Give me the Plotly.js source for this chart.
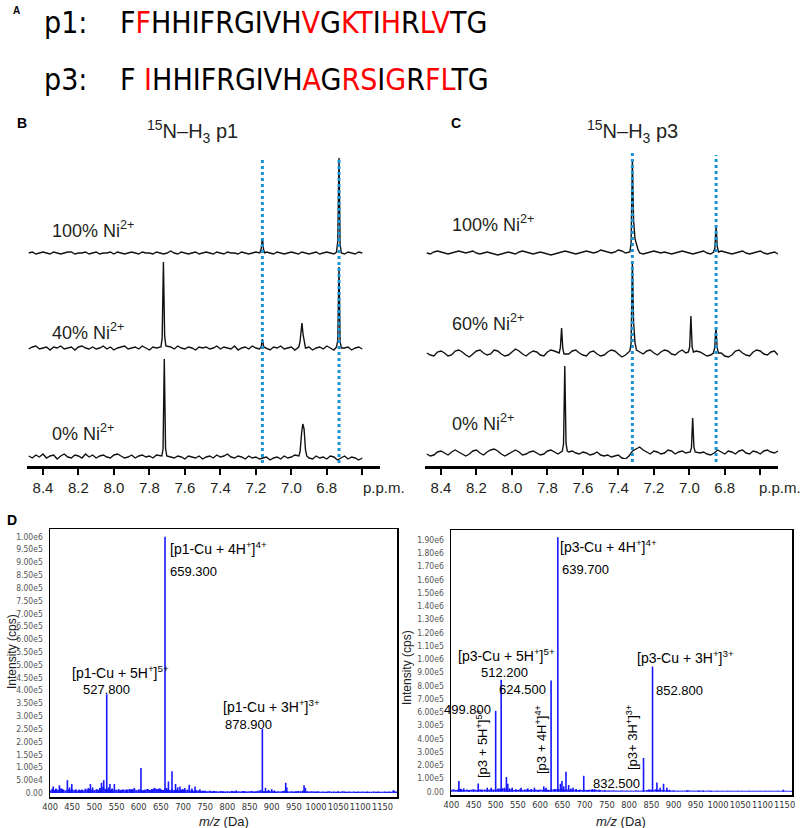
<!DOCTYPE html>
<html>
<head>
<meta charset="utf-8">
<script src="https://cdn.plot.ly/plotly-3.0.1.min.js"></script>
<style>body{margin:0;background:#fff}</style>
</head>
<body>
<div id="fig" style="width:800px;height:828px"></div>
<script>
// Panel A: peptide sequences, red = substituted residue (1-based positions)
var seqP1 = "FFHHIFRGIVHVGKTIHRLVTG";
var seqP3 = "F IHHIFRGIVHAGRSIGRFLTG";
var redP1 = [2, 12, 14, 15, 17, 19, 20];
var redP3 = [3, 13, 15, 16, 18, 20, 21];

// Panels B/C: 1H NMR, ppm axis
var ppmTicks = [8.4, 8.2, 8.0, 7.8, 7.6, 7.4, 7.2, 7.0, 6.8, 6.6];
var ppmTickText = ["8.4", "8.2", "8.0", "7.8", "7.6", "7.4", "7.2", "7.0", "6.8", ""];
var rowLabelsB = ["100% Ni<sup>2+</sup>", "40% Ni<sup>2+</sup>", "0% Ni<sup>2+</sup>"];
var rowLabelsC = ["100% Ni<sup>2+</sup>", "60% Ni<sup>2+</sup>", "0% Ni<sup>2+</sup>"];
var markB = [7.163, 6.731];
var markC = [7.321, 6.849];

// baseline noise, one value per 0.02 ppm starting at 8.48
var b100Noise = [0,1,-1,0,1,0,-1,1,0,-1,0,1,1,-1,0,0,1,-1,0,1,
  -1,0,0,1,-1,1,0,-1,0,1,0,-1,1,0,0,-1,1,0,-1,0,
  2,0,-1,1,0,-1,0,1,-1,0,1,0,-1,1,0,-1,1,0,0,-1,
  1,0,-1,0,1,-1,0,1,0,-1,1,0,-1,0,1,0,-1,1,0,-1,
  0,1,-1,0,1,0,-1,1,0,-1,1,0,-1,1,0];
var b40Noise = [-1,1,2,-1,0,1,-2,1,0,2,-1,0,1,-2,1,2,0,-1,1,-1,
  0,2,-1,1,-2,0,1,2,-1,0,1,-1,2,0,-2,1,0,1,-1,3,
  1,-1,2,0,-1,1,0,-2,1,0,1,-1,0,2,-1,1,0,-1,2,-2,
  0,1,-1,2,0,-1,1,0,-2,1,0,2,-1,0,1,-2,2,0,-1,1,
  -2,0,1,-1,2,0,-2,1,-1,0,1,-2,0,1,-1];
var b0Noise = [1,-1,2,0,3,-1,1,2,-2,1,3,0,-1,2,1,-1,3,0,2,-1,
  1,2,0,-1,2,3,1,-1,0,2,-1,1,2,0,1,-1,2,1,3,2,
  0,-1,1,0,-2,1,0,-1,1,-2,0,1,-1,2,0,1,3,0,-1,1,
  0,-2,1,-1,0,-2,-1,0,-3,-1,0,-2,1,-1,0,2,-1,1,0,-1,
  -2,1,-1,0,-2,1,0,-3,-1,1,-2,0,-1,-3,-1];
var c100Noise = [0,-1,1,2,1,0,-1,0,1,2,1,0,1,2,0,-1,0,1,0,-1,
  -2,-1,0,1,0,-1,1,2,1,0,-1,0,1,0,-1,-2,-1,0,1,2,
  1,0,-1,0,1,2,1,0,1,3,2,1,0,1,3,2,0,1,2,1,
  0,-1,0,1,2,1,0,1,0,-1,0,1,2,1,0,-1,0,1,2,0,
  -1,0,1,2,1,0,-1,0,1,2,0,-1,0,1,2,0,-1,0,1,-1];
var c60Noise = [0,-2,-3,1,2,0,-3,-2,2,3,1,-2,-4,-1,2,3,0,-2,-1,3,
  2,-1,-3,-2,1,4,2,-1,-3,0,2,1,-2,-3,1,3,2,-1,-2,-4,
  -1,2,3,0,-2,-3,1,2,-1,-3,-2,1,3,2,-1,-4,-2,1,2,3,
  1,-1,2,3,0,-2,1,3,2,-1,-2,1,3,0,-2,-1,2,1,-1,-3,
  -2,1,3,0,-3,-4,-2,2,3,0,-2,-3,1,3,2,-1,-2,1,2,-2];
var c0Noise = [-1,-3,-2,1,2,0,-2,1,3,1,-1,-3,-1,2,3,0,-2,1,3,4,
  2,-1,-3,-1,1,3,1,-2,-1,1,2,0,-2,-1,2,3,1,-1,0,-2,
  1,2,0,-1,1,0,-2,-1,1,-2,-3,-2,-4,-3,-2,-5,-6,-3,2,4,
  6,3,1,-1,2,1,-1,0,3,2,-1,1,2,0,-2,-1,2,0,1,-1,
  -2,0,3,1,-1,2,1,-1,2,3,0,-1,2,1,-1,2,3,1,0,2];

// resonances: ppm and intensity of the points that outline each peak
var b100PeakPpm = [7.178,7.170,7.163,7.156,7.149, 6.745,6.738,6.731,6.725,6.718];
var b100PeakInt = [0,4,15,3,0, 1,12,95,9,0];
var b40PeakPpm = [7.735,7.728,7.721,7.714,7.707, 7.170,7.163,7.156,
  6.958,6.951,6.945,6.940,6.934,6.927,6.920, 6.745,6.738,6.731,6.725,6.718];
var b40PeakInt = [1,10,86,12,2, 1,9,1, 1,6,20,25,14,4,0, 1,8,81,7,0];
var b0PeakPpm = [7.730,7.723,7.716,7.709,7.702, 6.957,6.950,6.942,6.935,6.928,6.920,6.913];
var b0PeakInt = [1,8,98,9,1, 1,6,24,33,28,7,1];
var c100PeakPpm = [7.335,7.328,7.321,7.314,7.306,7.298,7.290, 6.863,6.856,6.849,6.842,6.835];
var c100PeakInt = [1,10,93,32,14,8,4, 1,5,26,6,1];
var c60PeakPpm = [7.734,7.727,7.720,7.713,7.706, 7.335,7.328,7.321,7.314,7.306,7.298,
  7.005,6.998,6.991,6.984,6.977, 6.864,6.857,6.850,6.843,6.836];
var c60PeakInt = [0,5,25,4,-1, 2,10,91,30,10,3, 1,6,37,6,1, 0,5,26,5,0];
var c0PeakPpm = [7.716,7.709,7.702,7.695,7.688, 6.995,6.988,6.981,6.974,6.967];
var c0PeakInt = [2,9,87,10,2, 1,5,35,6,1];

// Panel D: ESI-MS, m/z and counts
var p1Mz = [407,413,421,428,439,444,449,458,466,472,480,486,491,496,505,512,516,521,527.8,532,535,540,545,
  555,565,572,585,590,605,612,620,630,636,641,648,659.3,663,667,675,683,688,693,698,704,714,720,727,738,
  750,820,878.9,886,893,900,906,931.6,934,973,976,1050,1175];
var p1Int = [25000,18000,30000,15000,50000,22000,35000,15000,12000,14000,17000,20000,35000,22000,15000,20000,40000,50000,385000,22000,35000,18000,35000,
  15000,12000,14000,16000,20000,98000,12000,14000,16000,20000,15000,18000,1000000,20000,45000,85000,35000,22000,25000,15000,20000,32000,18000,25000,15000,
  9000,10000,250000,20000,12000,15000,10000,40000,22000,30000,20000,6000,9000];
// low-level signal every 5 Da from 400 (thousands of counts)
var p1FloorK = [10,16,12,14,11,18,13,10,15,12,14,11,9,13,11,10,14,12,16,13,
  11,14,12,18,24,16,14,12,15,11,13,10,12,14,11,13,15,12,14,11,
  14,12,11,13,16,12,14,18,15,17,14,12,16,13,12,14,11,13,10,12,
  14,11,13,10,12,9,11,10,8,9,8,7,9,7,8,7,6,8,7,6,
  7,6,8,7,6,7,6,8,7,6,7,8,6,7,9,11,8,7,8,7,
  8,7,6,7,6,8,9,7,6,7,6,7,8,7,9,8,7,6,7,6,
  6,7,5,6,5,6,7,5,6,5,6,5,7,6,5,6,5,6,5,6,
  5,6,5,6,5,5,6,5,6,5,5,6,5,6,5,10,6];

var p3Mz = [417,422,428,440,450,460.5,468,480.8,489.8,495,499.8,506,512.2,519.6,524,527,531,537,545,557,565,572,580,587,595,
  608,613,618,624.5,632,639.7,645.5,649,653,658,664,669,674,681,688,698,706,717,722,733,745,
  832.5,846,852.8,862.7,870,877.6,885,891,900,930,958,967,985,1147];
var p3Int = [80000,20000,25000,12000,15000,62000,15000,30000,30000,15000,610000,25000,845000,30000,110000,60000,25000,30000,18000,30000,15000,25000,20000,30000,12000,
  40000,30000,15000,840000,20000,1920000,60000,80000,40000,150000,50000,25000,30000,20000,15000,120000,12000,20000,20000,15000,8000,
  255000,15000,945000,70000,30000,60000,30000,15000,10000,10000,8000,8000,6000,15000];
var p3FloorK = [14,18,13,16,22,14,12,16,13,15,18,14,12,17,14,16,13,15,19,14,
  16,18,22,26,19,16,14,17,13,16,14,18,13,15,17,14,16,13,15,14,
  16,14,18,15,13,17,16,19,22,16,18,14,16,13,15,14,16,12,14,13,
  14,12,15,13,12,14,11,13,10,11,9,10,9,10,9,8,9,10,8,9,
  8,9,8,10,9,8,10,9,13,16,14,13,18,16,14,13,11,12,10,9,
  9,8,9,8,9,8,9,10,8,9,8,9,8,9,7,8,9,8,7,8,
  8,7,8,7,8,7,8,7,7,8,7,8,7,7,8,7,8,7,7,8,
  7,8,7,7,8,7,7,8,7,7,8,7,7,8];

var p1YTickText = ["0.00","5.00e4","1.00e5","1.50e5","2.00e5","2.50e5","3.00e5","3.50e5","4.00e5","4.50e5","5.00e5",
  "5.50e5","6.00e5","6.50e5","7.00e5","7.50e5","8.00e5","8.50e5","9.00e5","9.50e5","1.00e6"];
var p3YTickText = ["0.00","1.00e5","2.00e5","3.00e5","4.00e5","3.00e5","6.00e5","7.00e5","8.00e5","9.00e5","1.00e6",
  "1.10e5","1.20e6","1.30e6","1.40e6","1.50e6","1.60e6","1.70e6","1.80e6","1.90e6"];
var mzTicks = [400,450,500,550,600,650,700,750,800,850,900,950,1000,1050,1100,1150];

// ---------------------------------------------------------------
var W = 800, H = 828;
function px(x) { return x / W; }
function py(y) { return 1 - y / H; }

var SANS = "Liberation Sans, Arial, Helvetica, sans-serif";
var NARROW = "DejaVu Sans Condensed, Liberation Sans, sans-serif";
var BLUE = "rgb(22,22,255)";

function grid(n) {
  var g = [];
  for (var i = 0; i < n; i++) g.push(+(8.48 - 0.02 * i).toFixed(2));
  return g;
}
var gridB = grid(b100Noise.length);
var gridC = grid(c100Noise.length);

// merge baseline samples with the peak outline, dropping samples under a peak
function spectrum(g, noise, pkX, pkY) {
  var pts = [];
  g.forEach(function (p, i) {
    var under = pkX.some(function (q) { return Math.abs(q - p) < 0.008; });
    if (!under) pts.push([p, noise[i]]);
  });
  pkX.forEach(function (p, i) { pts.push([p, pkY[i]]); });
  pts.sort(function (a, b) { return b[0] - a[0]; });
  return { x: pts.map(function (d) { return d[0]; }), y: pts.map(function (d) { return d[1]; }) };
}

var rowsB = [[b100Noise, b100PeakPpm, b100PeakInt], [b40Noise, b40PeakPpm, b40PeakInt], [b0Noise, b0PeakPpm, b0PeakInt]];
var rowsC = [[c100Noise, c100PeakPpm, c100PeakInt], [c60Noise, c60PeakPpm, c60PeakInt], [c0Noise, c0PeakPpm, c0PeakInt]];
var baseB = [253, 348, 457];
var baseC = [253, 353, 453];

var data = [];
var layout = {
  width: W, height: H,
  margin: { l: 0, r: 0, t: 0, b: 0 },
  paper_bgcolor: "#fff", plot_bgcolor: "rgba(0,0,0,0)",
  showlegend: false, barmode: "overlay",
  font: { family: SANS, color: "#000" },
  annotations: [], shapes: []
};

function nmrX(l, r) {
  return {
    domain: [px(l), px(r)], range: [8.49, 6.50], anchor: "free", position: py(467),
    showline: true, linewidth: 3, linecolor: "#000",
    ticks: "outside", ticklen: 6, tickwidth: 2, tickcolor: "#000",
    tickvals: ppmTicks, ticktext: ppmTickText,
    tickfont: { size: 15, color: "#231f20", family: SANS },
    showgrid: false, zeroline: false, fixedrange: true
  };
}
layout.xaxis = nmrX(27, 380);
layout.xaxis2 = nmrX(425, 778);

function addRows(rows, g, bases, xa, yStart, labels, labelX, labelY) {
  rows.forEach(function (r, i) {
    var s = spectrum(g, r[0], r[1], r[2]);
    var yn = yStart + i;
    data.push({ type: "scatter", mode: "lines", x: s.x, y: s.y, xaxis: xa, yaxis: "y" + yn,
      line: { color: "#111", width: 1.4 }, hoverinfo: "skip" });
    layout["yaxis" + yn] = { domain: [py(bases[i] + 6), py(bases[i] - 104)], range: [-6, 104],
      anchor: xa, visible: false, fixedrange: true };
    layout.annotations.push({ xref: "paper", yref: "paper", x: px(labelX), y: py(labelY[i]),
      xanchor: "left", yanchor: "middle", showarrow: false, text: labels[i],
      font: { size: 18, color: "#231f20" } });
  });
}
addRows(rowsB, gridB, baseB, "x", 2, rowLabelsB, 50, [229, 331, 432]);
addRows(rowsC, gridC, baseC, "x2", 5, rowLabelsC, 450, [224, 323, 422]);
layout.yaxis = { visible: false, domain: [0, 0.01] };

function marker(xa, ppm, top, bottom) {
  layout.shapes.push({ type: "line", xref: xa, yref: "paper", x0: ppm, x1: ppm, y0: py(bottom), y1: py(top),
    line: { color: "#1b93d4", width: 3, dash: "dot" } });
}
marker("x", markB[0], 158, 463);
marker("x", markB[1], 157, 463);
marker("x2", markC[0], 152, 462);
marker("x2", markC[1], 155, 462);

// MS panels
function floorMz(n) {
  var m = [];
  for (var i = 0; i < n; i++) m.push(400 + 5 * i);
  return m;
}
function msPanel(xa, ya, mz, inten, floorK) {
  data.push({ type: "bar", x: floorMz(floorK.length), y: floorK.map(function (v) { return v * 1000; }),
    width: 5, xaxis: xa, yaxis: ya, marker: { color: BLUE, line: { width: 0 } }, hoverinfo: "skip" });
  data.push({ type: "bar", x: mz, y: inten, width: 3.6, xaxis: xa, yaxis: ya,
    marker: { color: BLUE, line: { width: 0 } }, hoverinfo: "skip" });
}
msPanel("x3", "y8", p1Mz, p1Int, p1FloorK);
msPanel("x4", "y9", p3Mz, p3Int, p3FloorK);

function msX(l, r, range, ya) {
  return {
    domain: [px(l), px(r)], range: range, anchor: ya,
    showline: true, mirror: true, linewidth: 1.5, linecolor: "#000",
    ticks: "", tickvals: mzTicks, ticktext: mzTicks.map(String), tickangle: 0,
    tickfont: { size: 9.2, color: "#333", family: NARROW },
    showgrid: false, zeroline: false, fixedrange: true
  };
}
function msY(top, bottom, range, xa, step, text) {
  var vals = text.map(function (t, i) { return i * step; });
  return {
    domain: [py(bottom), py(top)], range: range, anchor: xa,
    showline: true, mirror: true, linewidth: 1.5, linecolor: "#000",
    ticks: "", tickvals: vals, ticktext: text, ticklabelstandoff: 4,
    tickfont: { size: 8.5, color: "#555", family: NARROW },
    showgrid: false, zeroline: false, fixedrange: true
  };
}
layout.xaxis3 = msX(50, 397, [399.8, 1182.7], "y8");
layout.yaxis8 = msY(529, 797, [-15600, 1030000], "x3", 50000, p1YTickText);
layout.xaxis4 = msX(451, 792, [399.3, 1166.6], "y9");
layout.yaxis9 = msY(530, 795, [-25000, 1975500], "x4", 100000, p3YTickText);

// sequences
function colored(seq, red) {
  var out = "";
  for (var i = 0; i < seq.length; i++) {
    var c = seq[i];
    out += red.indexOf(i + 1) >= 0 ? '<span style="color:#ff0000">' + c + "</span>" : c;
  }
  return out;
}

function note(x, y, text, opts) {
  var a = { xref: "paper", yref: "paper", x: px(x), y: py(y), text: text, showarrow: false,
    xanchor: "left", yanchor: "middle", font: { size: 14, color: "#000" } };
  for (var k in opts) a[k] = opts[k];
  layout.annotations.push(a);
}

var seqFont = { size: 30, family: NARROW, color: "#000" };
note(11, 11, "<b>A</b>", { font: { size: 10 } });
note(42, 22, "p1:", { font: seqFont });
note(42, 80, "p3:", { font: seqFont });
note(118, 22, colored(seqP1, redP1), { font: seqFont });
note(118, 80, colored(seqP3, redP3), { font: seqFont });

note(15, 123, "<b>B</b>", { font: { size: 14 } });
note(449, 123, "<b>C</b>", { font: { size: 14 } });
note(192, 131, "<sup>15</sup>N\u2013H<sub>3</sub> p1", { xanchor: "center", font: { size: 20, color: "#231f20" } });
note(632, 131, "<sup>15</sup>N\u2013H<sub>3</sub> p3", { xanchor: "center", font: { size: 20, color: "#231f20" } });
note(361, 488, "p.p.m.", { font: { size: 15, color: "#231f20" } });
note(757, 488, "p.p.m.", { font: { size: 15, color: "#231f20" } });

note(5, 520, "<b>D</b>", { font: { size: 14 } });
note(12, 652, "Intensity (cps)", { xanchor: "center", textangle: -90, font: { size: 12, color: "#222" } });
note(407, 668, "Intensity (cps)", { xanchor: "center", textangle: -90, font: { size: 12, color: "#222" } });
note(224, 821, "<i>m/z</i> (Da)", { xanchor: "center", font: { size: 13, color: "#222" } });
note(621, 821, "<i>m/z</i> (Da)", { xanchor: "center", font: { size: 13, color: "#222" } });

note(168, 548, "[p1-Cu + 4H<sup>+</sup>]<sup>4+</sup>");
note(168, 571, "659.300", { font: { size: 13 } });
note(70, 672, "[p1-Cu + 5H<sup>+</sup>]<sup>5+</sup>");
note(106, 689, "527.800", { xanchor: "center", font: { size: 13 } });
note(221, 706, "[p1-Cu + 3H<sup>+</sup>]<sup>3+</sup>");
note(248, 724, "878.900", { xanchor: "center", font: { size: 13 } });

note(558, 546, "[p3-Cu + 4H<sup>+</sup>]<sup>4+</sup>");
note(560, 569, "639.700", { font: { size: 13 } });
note(456, 655, "[p3-Cu + 5H<sup>+</sup>]<sup>5+</sup>");
note(504, 672, "512.200", { xanchor: "center", font: { size: 13 } });
note(493, 709, "499.800", { xanchor: "right", font: { size: 13 } });
note(548, 689, "624.500", { xanchor: "right", font: { size: 13 } });
note(654, 690, "852.800", { font: { size: 13 } });
note(635, 657, "[p3-Cu + 3H<sup>+</sup>]<sup>3+</sup>");
note(642, 783, "832.500", { xanchor: "right", font: { size: 13 } });
note(482, 744, "[p3 + 5H<sup>+</sup>]<sup>5+</sup>", { xanchor: "center", textangle: -90, font: { size: 13 } });
note(541, 740, "[p3 + 4H<sup>+</sup>]<sup>4+</sup>", { xanchor: "center", textangle: -90, font: { size: 13 } });
note(632, 738, "[p3+ 3H<sup>+</sup>]<sup>3+</sup>", { xanchor: "center", textangle: -90, font: { size: 13 } });

Plotly.newPlot("fig", data, layout, { staticPlot: true, displayModeBar: false });
</script>
</body>
</html>
